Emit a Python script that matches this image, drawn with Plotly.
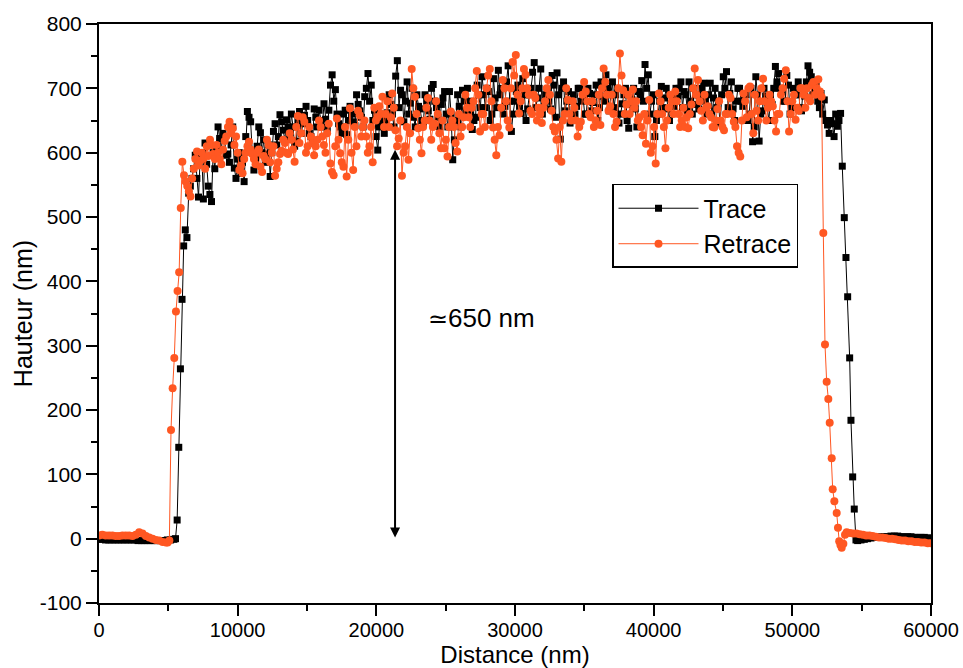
import numpy as np
import plotly.graph_objects as go

# ---------------- data ----------------
# Trace (black squares)
trace_left_y = [-1, -1, -2, -2, -2, -2, -2, -2, -2, -2, -2, -2, -3, -3, -3, -3, -3, -3, -3, -3, -3, -2, -2, -1]
trace_rise_x = [5518, 5636, 5753, 5871, 5988, 6106, 6223, 6341]
trace_rise_y = [0, 29, 142, 264, 372, 455, 480, 468]
# plateau samples (main grid)
trace_plateau_y = [
    537, 560, 596, 531, 600, 615, 548, 524, 575, 640,
    605, 620, 598, 612, 576, 590, 568, 555, 664, 648,
    573, 610, 631, 620, 598, 563, 633, 612, 659, 635,
    651, 628, 640, 618, 664, 645, 672, 630, 615, 655,
    666, 640, 652, 666, 721, 698, 645, 630, 666, 650,
    660, 642, 675, 655, 687, 723, 705, 666, 604, 648,
    630, 662, 675, 640, 743, 697, 648, 710, 677, 655,
    690, 668, 645, 680, 652, 706, 670, 640, 685, 660,
    695, 589, 650, 672, 697, 665, 680, 636, 655, 690,
    718, 670, 695, 660, 685, 728, 700, 672, 735, 633,
    680, 705, 661, 690, 668, 700, 740, 685, 730, 675,
    695, 668, 705, 724, 621, 710, 680, 646, 690, 672,
    700, 685, 660, 692, 678, 705, 670, 688, 721, 665,
    710, 690, 646, 676, 700, 638, 682, 668, 695, 712,
    737, 721, 680, 625, 660, 703, 685, 668, 690, 672,
    688, 710, 695, 665, 680, 700, 675, 690, 708, 660,
    708, 685, 670, 646, 718, 726, 692, 668, 680, 700,
    672, 690, 660, 617, 718, 618, 665, 688, 650, 675,
    734, 723, 695, 680, 705, 670, 690, 710, 665, 688,
    735, 718, 700, 680, 692, 682, 643, 650, 625, 641, 661,
]
# plateau samples lying between the main-grid samples
trace_plateau_mid_y = [
    548, 575, 560, 590, 528, 582, 535, 600, 610, 622,
    630, 596, 585, 640, 560, 600, 585, 625, 655, 600,
    590, 640, 600, 585, 612, 600, 645, 625, 648, 620,
    640, 660, 610, 650, 630, 658, 650, 625, 668, 640,
    650, 676, 635, 705, 680, 660, 640, 660, 628, 672,
    648, 690, 665, 640, 700, 680, 650, 625, 640, 660,
    650, 690, 660, 719, 670, 690, 680, 660, 700, 640,
    672, 650, 690, 665, 700, 680, 655, 675, 695, 640,
    660, 620, 690, 640, 680, 700, 660, 650, 705, 670,
    690, 700, 650, 715, 670, 690, 660, 710, 680, 660,
    695, 672, 715, 650, 690, 725, 670, 700, 660, 690,
    680, 720, 655, 690, 700, 665, 695, 680, 660, 700,
    680, 660, 700, 665, 690, 650, 710, 680, 700, 690,
    670, 700, 660, 690, 650, 675, 700, 640, 690, 680,
    700, 660, 690, 650, 680, 670, 700, 650, 680, 700,
    700, 670, 690, 710, 660, 690, 668, 700, 680, 690,
    660, 700, 680, 690, 700, 670, 710, 650, 700, 680,
    690, 650, 700, 640, 690, 660, 700, 670, 690, 700,
    710, 700, 680, 720, 660, 700, 690, 670, 700, 710,
    725, 690, 710, 670, 660, 650, 630, 645, 660, 650,
]
trace_fall_x = [53602, 53746, 53868, 53990, 54134, 54228, 54351, 54466, 54589]
trace_fall_y = [579, 499, 437, 376, 281, 184, 96, 46, -2]
trace_right_y = [-3, -2, -1, 0, 1, 2, 2, 3, 3, 3, 4, 4, 4, 3, 3, 3, 3, 2, 2, 2, 2, 1, 1]

# Retrace (orange circles)
retrace_left_y = [5, 6, 5, 5, 5, 4, 4, 5, 5, 5, 4, 6, 10, 8, 4, 2, 0, -2, -3, -5, -6]
retrace_rise_x = [4950, 5075, 5192, 5310, 5430, 5550, 5665, 5780, 5895, 6010]
retrace_rise_y = [-6, -3, 169, 234, 281, 353, 385, 414, 514, 586]
retrace_plateau_y = [
    565, 548, 532, 575, 602, 588, 591, 610, 620, 598,
    612, 590, 605, 625, 648, 638, 625, 573, 568, 600,
    617, 598, 582, 605, 570, 590, 612, 600, 564, 585,
    603, 615, 598, 620, 586, 657, 630, 648, 610, 625,
    596, 620, 640, 612, 630, 583, 565, 653, 599, 578,
    563, 669, 573, 610, 658, 640, 625, 610, 585, 650,
    672, 687, 660, 640, 692, 635, 622, 564, 610, 589,
    730, 687, 638, 599, 650, 685, 620, 645, 660, 607,
    607, 594, 664, 640, 602, 625, 655, 670, 640, 680,
    727, 633, 660, 700, 730, 639, 596, 627, 713, 680,
    639, 741, 752, 661, 700, 721, 690, 660, 685, 670,
    646, 680, 713, 665, 633, 591, 586, 660, 682, 650,
    670, 625, 648, 710, 680, 655, 640, 665, 643, 731,
    690, 672, 660, 648, 754, 697, 675, 660, 698, 680,
    655, 627, 614, 682, 610, 583, 692, 660, 607, 670,
    680, 695, 660, 650, 640, 638, 675, 731, 713, 665,
    690, 672, 655, 639, 668, 650, 635, 660, 685, 648,
    610, 594, 692, 655, 703, 630, 665, 680, 715, 650,
    690, 672, 633, 660, 700, 728, 633, 680, 651, 665,
    700, 670, 685, 705, 690, 714, 687,
]
retrace_plateau_mid_y = [
    555, 540, 560, 590, 580, 600, 575, 595, 612, 590,
    600, 582, 618, 640, 630, 612, 600, 580, 590, 610,
    605, 590, 600, 578, 595, 620, 585, 610, 575, 598,
    620, 600, 630, 605, 640, 615, 655, 600, 640, 615,
    610, 650, 625, 600, 645, 570, 610, 620, 585, 640,
    620, 600, 640, 665, 625, 650, 600, 640, 670, 655,
    660, 640, 680, 655, 670, 610, 650, 600, 640, 630,
    700, 660, 620, 640, 670, 650, 640, 680, 630, 650,
    620, 640, 650, 615, 660, 640, 690, 655, 670, 700,
    690, 660, 640, 720, 680, 620, 640, 670, 700, 650,
    700, 720, 690, 680, 730, 700, 665, 690, 650, 660,
    670, 700, 690, 640, 620, 640, 650, 700, 660, 680,
    650, 640, 690, 695, 660, 680, 650, 690, 700, 710,
    665, 690, 640, 700, 720, 660, 690, 680, 670, 650,
    640, 660, 650, 600, 640, 660, 680, 640, 650, 690,
    660, 680, 640, 670, 655, 660, 700, 690, 680, 650,
    670, 660, 640, 650, 680, 640, 660, 690, 660, 640,
    600, 650, 680, 700, 660, 690, 650, 700, 680, 670,
    680, 650, 660, 690, 715, 680, 660, 690, 670, 700,
    690, 700, 680, 710, 700, 695,
]
retrace_fall_x = [52234, 52355, 52476, 52595, 52695, 52839, 52911, 53030, 53198, 53292, 53380, 53470, 53560, 53680, 53800]
retrace_fall_y = [475, 302, 244, 217, 180, 125, 77, 58, 40, 17, -4, -10, -14, -8, 6]
retrace_right_y = [10, 9, 8, 8, 7, 6, 5, 5, 4, 3, 2, 2, 1, 0, 0, -1, -2, -3, -3, -4, -4, -5, -5, -6, -6, -7, -7]

# sampling ranges of the flat / plateau segments (nm)
trace_left_range = (0, 5400)
trace_plateau_range = (6470, 53480)
trace_right_range = (54710, 60000)
retrace_left_range = (0, 4830)
retrace_plateau_range = (6130, 52110)
retrace_right_range = (53920, 60000)

x_ticks = [0, 10000, 20000, 30000, 40000, 50000, 60000]
y_ticks = [-100, 0, 100, 200, 300, 400, 500, 600, 700, 800]


def grid(rng, vals):
    return list(np.linspace(rng[0], rng[1], len(vals)))


def plateau(rng, main, mid):
    xs = np.linspace(rng[0], rng[1], len(main))
    step = xs[1] - xs[0]
    px, py = [], []
    for i, v in enumerate(main):
        px.append(xs[i]); py.append(v)
        if i < len(mid):
            px.append(xs[i] + step / 2); py.append(mid[i])
    return px, py


tpx, tpy = plateau(trace_plateau_range, trace_plateau_y, trace_plateau_mid_y)
rpx, rpy = plateau(retrace_plateau_range, retrace_plateau_y, retrace_plateau_mid_y)

trace_x = grid(trace_left_range, trace_left_y) + trace_rise_x + tpx + trace_fall_x + grid(trace_right_range, trace_right_y)
trace_y = trace_left_y + trace_rise_y + tpy + trace_fall_y + trace_right_y

retrace_x = grid(retrace_left_range, retrace_left_y) + retrace_rise_x + rpx + retrace_fall_x + grid(retrace_right_range, retrace_right_y)
retrace_y = retrace_left_y + retrace_rise_y + rpy + retrace_fall_y + retrace_right_y

BLACK = "#000000"
ORANGE = "#FF5722"
FONT = "Arial, Liberation Sans, sans-serif"

fig = go.Figure()
fig.add_trace(go.Scatter(
    x=trace_x, y=trace_y, mode="lines+markers", name="Trace",
    line=dict(color=BLACK, width=1),
    marker=dict(symbol="square", size=7, color=BLACK),
))
fig.add_trace(go.Scatter(
    x=retrace_x, y=retrace_y, mode="lines+markers", name="Retrace",
    line=dict(color=ORANGE, width=1),
    marker=dict(symbol="circle", size=8, color=ORANGE),
))

# double-headed arrow and label
fig.add_annotation(
    x=21350, y=2, ax=21350, ay=607, xref="x", yref="y", axref="x", ayref="y",
    text="", showarrow=True, arrowhead=2, startarrowhead=2, arrowside="end+start",
    arrowsize=1, arrowwidth=2, arrowcolor=BLACK,
)
fig.add_annotation(
    x=27550, y=343, xref="x", yref="y",
    text="<span style='font-size:24px'>≃</span>650 nm", showarrow=False,
    font=dict(family=FONT, size=26, color=BLACK),
)

axis_common = dict(
    showgrid=False, zeroline=False, showline=True, linecolor=BLACK, linewidth=2,
    mirror=True, ticks="outside", tickcolor=BLACK, tickwidth=2, ticklen=11,
    automargin=False,
)

fig.update_xaxes(
    range=[0, 60000], tickmode="array", tickvals=x_ticks, ticktext=[str(v) for v in x_ticks],
    tickfont=dict(family=FONT, size=20, color=BLACK), ticklabelstandoff=-3,
    minor=dict(ticks="outside", dtick=5000, ticklen=6, tickcolor=BLACK, tickwidth=2),
    title=dict(text="Distance (nm)", font=dict(family=FONT, size=24, color=BLACK), standoff=3),
    **axis_common,
)
fig.update_yaxes(
    range=[-100, 800], tickmode="array", tickvals=y_ticks, ticktext=[str(v) for v in y_ticks],
    tickfont=dict(family=FONT, size=21, color=BLACK),
    minor=dict(ticks="outside", dtick=50, ticklen=6, tickcolor=BLACK, tickwidth=2),
    title=dict(text="Hauteur (nm)", font=dict(family=FONT, size=25, color=BLACK), standoff=0),
    **axis_common,
)

fig.update_layout(
    width=963, height=668,
    margin=dict(l=99, r=32, t=24, b=65),
    plot_bgcolor="white", paper_bgcolor="white",
    font=dict(family=FONT, color=BLACK),
    legend=dict(
        x=0.6166, y=0.7237, xanchor="left", yanchor="top",
        bgcolor="white", bordercolor=BLACK, borderwidth=1.5,
        font=dict(family=FONT, size=25, color=BLACK),
        itemwidth=80, tracegroupgap=0,
    ),
)

fig.write_html(
    "out.html",
    config={"displayModeBar": False},
    post_script="document.body.style.margin='0';document.body.style.overflow='hidden';",
)
